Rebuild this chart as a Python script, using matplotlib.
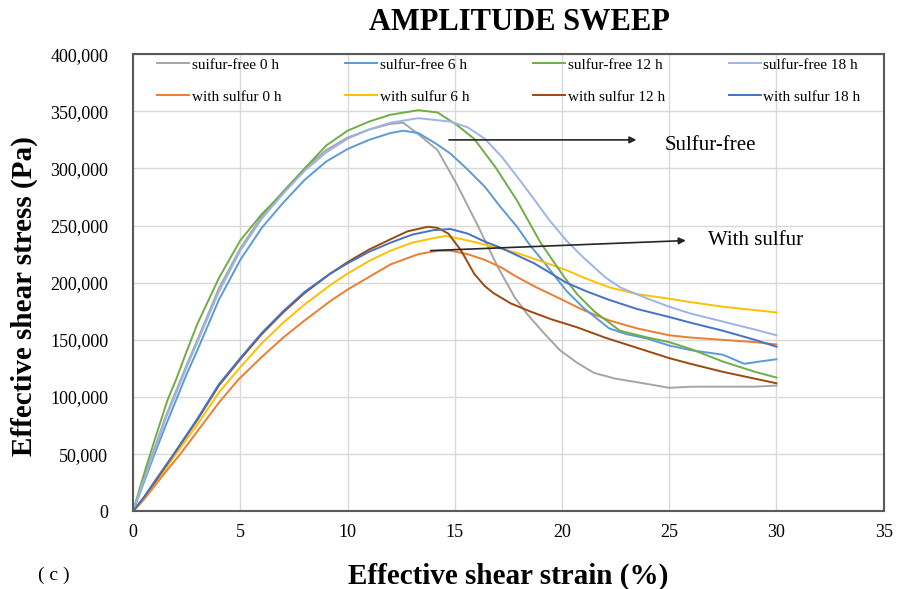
import matplotlib.pyplot as plt
from matplotlib.ticker import FuncFormatter

# strain (%) / stress (kPa)
sf0_x = [0, 0.5, 1, 1.5, 2, 2.5, 3, 4, 5, 6, 7, 8, 9, 10, 11, 12, 12.6, 13.3, 14.2, 15.1, 16.1, 17.0, 17.8,
         18.4, 19.2, 19.9, 20.7, 21.5, 22.5, 23.8, 25, 26, 27.5, 29, 30]
sf0_y = [0, 28, 55, 82, 105, 128, 150, 195, 230, 258, 280, 300, 316, 327, 334, 339, 340, 330, 316, 286, 249, 214, 187,
         172, 155, 141, 130, 121, 116, 112, 108, 109, 109, 109, 110]

sf6_x = [0, 0.5, 1, 1.5, 2, 2.5, 3, 4, 5, 6, 7, 8, 9, 10, 11, 12, 12.6, 13.3, 14.1, 14.8, 15.6, 16.4, 17.1, 17.9,
         18.5, 19.2, 20.2, 21, 22.2, 23, 24, 25, 26, 27.5, 28.5, 29.2, 30]
sf6_y = [0, 25, 50, 74, 97, 120, 141, 185, 220, 248, 270, 290, 306, 317, 325, 331, 333, 331, 322, 313, 299, 284, 267, 249,
         233, 217, 193, 178, 160, 155, 151, 145, 141, 137, 129, 131, 133]

sf12_x = [0, 0.5, 1, 1.6, 2, 2.5, 3, 4, 5, 6, 7, 8, 9, 10, 11, 12, 13.3, 14.2, 15.1, 15.9, 16.9, 17.9, 19.0, 20.1,
          20.7, 21.5, 22.7, 24, 25, 26, 27.5, 29, 30]
sf12_y = [0, 32, 62, 97, 115, 140, 164, 204, 237, 260, 279, 300, 320, 333, 341, 347, 351, 349, 338, 326, 301, 272, 235, 205,
          190, 175, 158, 152, 148, 142, 131, 122, 117]

sf18_x = [0, 0.5, 1, 1.5, 2, 2.5, 3, 4, 5, 6, 7, 8, 9, 10, 11, 12, 13.3, 14.8, 15.6, 16.4, 17.2, 17.9, 18.7, 19.4,
          20.2, 21, 22, 22.7, 24, 25, 26, 27.5, 29, 30]
sf18_y = [0, 27, 53, 80, 103, 126, 148, 192, 228, 256, 278, 298, 314, 326, 334, 340, 344, 341, 336, 326, 310, 293, 273, 255,
          237, 222, 205, 196, 186, 179, 173, 166, 159, 154]

ws0_x = [0, 0.5, 1, 1.5, 2.2, 3, 4, 4.9, 6, 7, 8, 9.2, 10, 11, 12, 13.3, 14.2, 14.8, 15.6, 16.4, 17.2, 17.9, 18.8,
         19.8, 21, 22.2, 23.5, 25, 26, 27.5, 29, 30]
ws0_y = [0, 10, 22, 34, 50, 70, 95, 115, 135, 152, 167, 184, 194, 205, 216, 225, 228, 228, 225, 220, 213, 205, 196,
         187, 176, 167, 160, 154, 152, 150, 148, 146]

ws6_x = [0, 0.5, 1, 1.5, 2, 3, 4, 5, 6, 7, 8, 9.2, 10, 11, 12, 13, 14, 14.6, 15.6, 16.7, 17.9, 19, 20.2, 21.2, 22.2,
         23.5, 25, 26, 27.5, 29, 30]
ws6_y = [0, 11, 24, 37, 50, 76, 104, 126, 147, 165, 181, 198, 208, 219, 228, 235, 239, 241, 237, 232, 226, 219, 211, 203, 196,
         190, 186, 183, 179, 176, 174]

ws12_x = [0, 0.5, 1, 1.9, 3, 4, 5, 6, 7, 8, 9.2, 10, 11, 12, 12.8, 13.75, 14.2, 14.7, 15.3, 15.9, 16.4, 16.8, 17.6,
          18.5, 19.5, 20.7, 22, 23.5, 25, 26, 27.5, 29, 30]
ws12_y = [0, 12, 25, 50, 80, 110, 133, 155, 174, 191, 208, 218, 229, 238, 245, 249, 248, 243, 228, 208, 197, 191, 182,
          175, 168, 161, 152, 143, 134, 129, 122, 116, 112]

ws18_x = [0, 0.5, 1, 1.9, 3, 4, 5, 6, 7, 8, 9.2, 10, 11, 12, 13, 14, 14.8, 15.6, 16.4, 17.1, 17.9, 18.7, 19.5, 20.2,
          21.2, 22.2, 23.5, 25, 26, 27.5, 29, 30]
ws18_y = [0, 12, 26, 50, 81, 111, 134, 156, 175, 192, 208, 217, 227, 235, 242, 246, 247, 243, 236, 231, 224, 217, 208, 200,
          192, 185, 177, 170, 165, 158, 150, 144]

plt.rcParams['font.family'] = ['Liberation Serif', 'DejaVu Serif']

fig = plt.figure(figsize=(8.99, 5.89), dpi=100)
ax = fig.add_axes([0.148, 0.132, 0.835, 0.776])

# legend order: matplotlib fills column by column
series = [
    (sf0_x, sf0_y, '#A5A5A5', 'suifur-free 0 h'),
    (ws0_x, ws0_y, '#ED7D31', 'with sulfur 0 h'),
    (sf6_x, sf6_y, '#5B9BD5', 'sulfur-free 6 h'),
    (ws6_x, ws6_y, '#FFC000', 'with sulfur 6 h'),
    (sf12_x, sf12_y, '#70AD47', 'sulfur-free 12 h'),
    (ws12_x, ws12_y, '#9E480E', 'with sulfur 12 h'),
    (sf18_x, sf18_y, '#9DB4E4', 'sulfur-free 18 h'),
    (ws18_x, ws18_y, '#4472C4', 'with sulfur 18 h'),
]
for xs, ys, c, lab in series:
    ax.plot(xs, [v * 1000 for v in ys], color=c, linewidth=1.4, label=lab)

ax.set_xlim(0, 35)
ax.set_ylim(0, 400000)
ax.set_xticks(range(0, 36, 5))
ax.set_yticks(range(0, 400001, 50000))
ax.yaxis.set_major_formatter(FuncFormatter(lambda v, p: f'{int(v):,}'))
ax.tick_params(labelsize=13, length=0)
ax.tick_params(axis='y', pad=18)
ax.tick_params(axis='x', pad=9)
ax.grid(True, color='#D9D9D9', linewidth=1)
ax.set_axisbelow(True)
for s in ax.spines.values():
    s.set_color('#595959')
    s.set_linewidth(1.5)

ax.legend(ncol=4, loc='upper left', bbox_to_anchor=(0.014, 1.022), frameon=False,
          fontsize=11, handlelength=2.1, handletextpad=0.15, columnspacing=4.2,
          labelspacing=1.2)

ax.annotate('', xy=(23.6, 325000), xytext=(14.6, 325000),
            arrowprops=dict(arrowstyle='-|>', color='#262626', lw=1.2))
ax.text(24.8, 320000, 'Sulfur-free', fontsize=15, va='center')
ax.annotate('', xy=(25.9, 237000), xytext=(13.75, 228000),
            arrowprops=dict(arrowstyle='-|>', color='#262626', lw=1.2))
ax.text(26.8, 237000, 'With sulfur', fontsize=15, va='center')

fig.text(0.578, 0.962, 'AMPLITUDE SWEEP', fontsize=22, fontweight='bold', ha='center', va='center')
ax.set_xlabel('Effective shear strain (%)', fontsize=21, fontweight='bold', labelpad=16)
ax.set_ylabel('Effective shear stress (Pa)', fontsize=21, fontweight='bold')
ax.yaxis.set_label_coords(-0.126, 0.47)
fig.text(0.042, 0.015, '( c )', fontsize=14)

fig.savefig('out.png', dpi=100)
